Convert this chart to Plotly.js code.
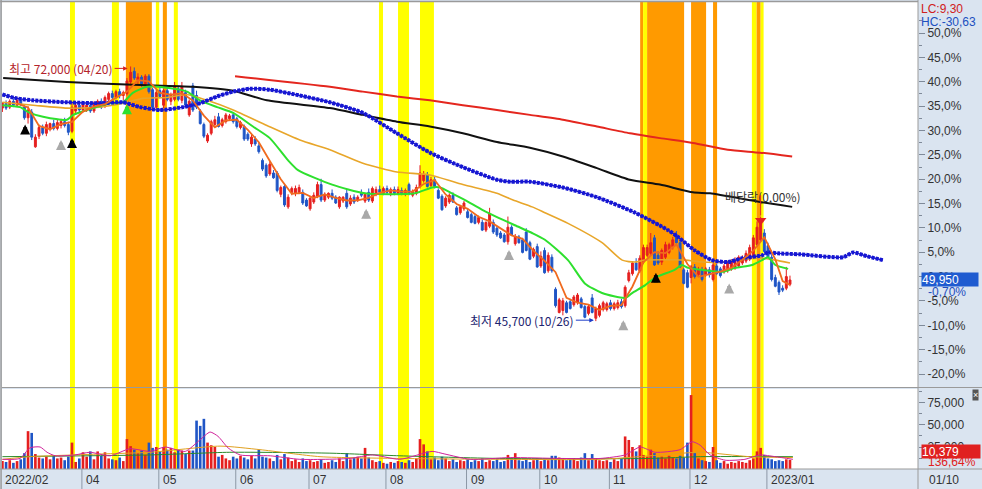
<!DOCTYPE html>
<html><head><meta charset="utf-8">
<script src="https://cdn.plot.ly/plotly-3.0.1.min.js"></script>
<style>html,body{margin:0;padding:0;background:#fff}#chart{width:982px;height:489px}</style>
</head><body><div id="chart"></div>
<script>
// ---------- data (trading-day index 0 = 2022-02-28) ----------
const basePrice = 50300;   // previous close, 0,0% line

const open = [
67700,68200,67800,68400,68000,68500,67800,66700,67300,63700,
64800,65700,65100,65600,66100,65600,65900,66300,66000,65300,
67400,68000,67500,67600,68000,67400,68000,68400,67900,68600,
69200,68800,69400,69000,69200,70400,71500,70600,70900,70100,
71000,69600,67800,69500,68000,69500,68400,68600,69700,68500,
69300,67000,70000,69000,67400,66000,64300,65100,66000,66800,
65900,66300,66600,67000,66600,65700,65800,65000,64000,64500,
63800,62300,61800,60900,61000,61000,58800,59600,57500,59000,
58900,59000,59000,58200,57300,58000,58600,59800,58200,58500,
58900,58500,57500,58100,58900,57800,58500,58200,58900,58100,
59000,58100,58800,59300,58900,59400,58900,59300,58900,59200,
58800,59800,58700,58900,59600,60200,60800,59700,60300,59200,
58600,57600,58000,58700,57400,56900,57300,57000,56700,56500,
55900,55900,55100,55500,55900,55300,54800,54600,53900,55400,
53700,54400,54100,54900,53800,52400,53400,51400,53000,50900,
52300,49000,46600,46800,47600,47700,47400,47600,48000,47200,
46500,48100,46000,46300,46900,46900,47600,47000,47100,47700,
47300,49900,50600,51700,50900,51800,52500,52700,54300,52500,
51800,52300,52800,53400,54600,53800,51000,50700,50200,51300,
50500,51000,50500,51000,50000,51400,51100,50800,50900,51100,
51200,51400,51700,51900,52100,52400,53600,54100,54800,53500,
52300,50200,49700,49100,49100,49500];

const high = [
68300,68500,68600,68700,68800,68800,68000,67900,67600,65000,
66000,66000,66300,66200,66500,66500,66600,66700,66300,68200,
68300,68400,68400,68200,68300,68400,68600,68700,69000,69400,
69500,69600,69700,69500,70800,72000,71900,71300,71100,71200,
71200,69800,69600,69800,69700,69800,69300,70400,70000,70400,
69600,68600,70300,69500,67600,66200,65100,66500,66900,67200,
66700,67200,67100,67300,66800,66400,66000,65200,65100,64800,
64100,62500,62000,62200,61300,61200,59700,59900,58800,59600,
59700,59800,59300,58400,58600,59000,60100,60400,59000,59000,
59300,58700,58600,58600,59300,58700,58800,58700,59300,58900,
59400,59600,59600,59700,59600,59700,59500,59600,59600,59500,
59400,60000,59300,59800,61800,61200,61100,60600,60600,59400,
58800,58600,58900,59000,57600,57700,58100,57300,56900,56700,
56600,56200,56000,57400,56200,55500,55000,54800,56500,55600,
54700,54600,54300,55300,54000,53300,53700,52900,53300,52800,
52600,49200,48100,48100,47800,48000,48400,48600,48200,47400,
47400,48500,47200,47500,47800,47700,47900,47700,47900,48000,
49400,51000,51900,52200,52500,53600,53600,54800,54600,52900,
53200,53900,53800,54400,55000,54000,51200,51000,51500,51600,
51300,51300,51300,51300,52100,51600,51300,51600,51900,52100,
52300,52500,52500,53000,53600,54600,56000,56500,55200,53800,
52600,50500,49900,49400,51300,50400];

const low = [
67300,67500,67600,67800,67800,67900,66500,66100,64400,63600,
64500,64900,64800,65300,65400,65400,65600,65700,64900,65100,
67000,67200,67300,67300,67200,67200,67800,67600,67700,68400,
68500,68600,68700,68500,69000,70200,70600,70200,69900,69800,
69200,67600,67600,68700,67700,68400,68000,68400,68400,68200,
67800,66800,67300,67600,66000,64600,64100,64900,65700,65700,
65700,66100,66400,66100,65600,65500,64300,64300,63700,63800,
63000,61200,60500,60700,60400,59000,58500,57500,57300,58700,
58600,58800,57700,57500,57100,57800,58400,58000,58000,58300,
58200,57800,57300,57900,57300,57600,57800,58000,58500,57900,
58000,57900,58600,58800,58700,58800,58600,58700,58700,58700,
58600,58700,58500,58700,59400,60000,59500,59500,59400,58300,
57100,57400,57800,57900,56600,56700,57100,56300,55800,55700,
55700,55000,54900,55300,54700,54400,54200,53800,53600,54500,
53500,53700,52700,52900,52000,52200,51200,51200,50600,50700,
50700,47100,46500,46300,46500,46900,47200,47400,47000,46000,
46300,46500,45700,46100,46700,46700,46800,46800,46900,47000,
47100,49700,50400,50900,50700,51600,52300,52500,51400,51500,
51500,52100,52600,53100,53500,51200,49500,49100,49600,50100,
50300,49800,50300,50200,49800,50500,50200,50600,50700,50900,
51000,51200,51500,51700,51900,52200,53400,53900,52800,52200,
49800,49200,48400,48700,48900,49300];

const close = [
68200,67700,68400,68000,68500,68100,66700,67500,64700,64700,
65700,65100,66000,66100,65600,66200,66300,65900,65200,67800,
68000,67500,68200,68000,67400,68200,68400,67800,68800,69200,
68800,69400,69000,69300,70500,71400,70800,70900,70200,71000,
69400,67800,69300,68900,69500,68600,69100,70000,68600,69900,
68000,68400,67500,67800,66100,64800,64900,66300,66500,65800,
66500,67000,66900,66300,65800,66200,64500,64500,64700,64000,
63200,61400,60700,61900,60500,59200,59500,57700,58500,59400,
59400,59500,57900,57600,58400,58700,59800,58200,58800,58900,
58400,57900,58500,58500,57500,58400,58000,58500,58700,58800,
58200,59400,59300,59000,59400,59000,59300,58900,59300,58900,
59200,58900,59100,59500,61000,60800,59600,60300,59600,58400,
57200,58400,58700,58000,56700,57500,57900,56400,55900,55800,
56400,55100,55900,56800,54900,54600,54300,53900,55400,54600,
54400,53800,52800,53000,52100,53100,51300,52400,50700,52500,
50900,47300,47900,47800,46600,47000,48200,48400,47100,46100,
47200,46600,47000,47300,47600,47500,47000,47500,47600,47200,
49200,50700,51700,51000,52200,53300,53300,53800,51500,51700,
53000,53600,53600,54100,53800,51300,49600,49200,51300,50300,
51000,50000,51100,50500,51500,50600,50400,51400,51700,51900,
52000,52300,52300,52700,53300,54300,55400,55900,52900,52300,
50000,49300,48700,48900,50300,49950];

const volume = [
9000,8000,10000,7000,9000,11000,18000,43000,41000,17000,
13000,12000,14000,11000,15000,12000,13000,10000,14000,30000,
8000,12000,19000,14000,20000,11000,20000,15000,19000,12000,
11000,10000,13000,9000,34000,26000,22000,18000,21000,16000,
30000,24000,25000,20000,25000,22000,24000,19000,22000,21000,
17000,21000,21000,55000,49000,57000,30000,27000,25000,14000,
16000,12000,10000,14000,12000,15000,13000,11000,15000,12000,
22000,14000,13000,12000,9000,16000,11000,17000,13000,9000,
11000,8000,12000,9000,10000,8000,9000,11000,7000,8000,
10000,8000,12000,9000,18000,11000,13000,14000,12000,24000,
13000,10000,8000,9000,7000,6000,8000,7000,9000,8000,
7000,10000,8000,12000,34000,28000,20000,11000,13000,10000,
14000,12000,9000,11000,8000,10000,9000,11000,8000,10000,
9000,12000,8000,10000,9000,11000,8000,9000,16000,12000,
18000,10000,9000,11000,8000,10000,12000,9000,11000,10000,
15000,15000,13000,12000,10000,11000,12000,9000,13000,18000,
10000,17000,12000,10000,9000,10000,8000,11000,9000,12000,
37000,33000,25000,20000,27000,16000,14000,22000,18000,13000,
14000,12000,15000,13000,12000,15000,13000,30000,84000,18000,
12000,10000,9000,8000,25000,10000,7000,9000,6000,8000,
7000,9000,8000,7000,10000,12000,20000,24000,16000,12000,
11000,9000,10000,9000,11000,10379];

// moving averages (index, price)
const ma5Idx = [4,7,10,13,16,19,22,25,28,31,34,37,40,43,46,49,52,55,58,61,64,67,70,73,76,79,82,85,88,91,94,97,100,103,106,109,112,115,118,121,124,127,130,133,136,139,142,145,148,151,154,157,160,163,166,169,172,175,178,181,184,187,190,193,196,199,202,205,208,211,213,215];
const ma5Val = [68160,67760,65860,65520,66040,66280,67340,67860,68120,68800,69400,70580,70460,69280,69080,69240,68480,66920,65720,66420,66500,65460,64180,62240,60360,58860,58940,58420,58780,58440,58160,58180,58440,58940,59200,59080,59080,59860,60260,58780,57800,57300,56480,56000,55300,54560,54200,52960,51920,50760,48100,47600,47400,46840,47280,47360,49280,51780,52820,52720,53620,51600,50280,50580,50820,51200,52040,52980,54360,52080,49840,49430];

const ma20Idx = [0,4.8,7.5,11.1,17.6,19.3,23.1,29.4,32.9,35.7,39.5,45,50.4,53.9,58.6,63,68.4,73,78,80.7,90,99,112.6,117.3,119.5,122.7,126.3,131,135.3,139.9,144.6,148.1,154.4,159,163.7,170,171.9,175.4,178.2,183.5,185.5,187.2,191,196.5,200,204.7,207.4,209,211,214.5];
const ma20Val = [68000,67800,67200,66800,66500,67000,67500,68200,68300,69300,69900,69800,69400,68500,67800,67200,65800,64600,62300,61300,59800,58900,58900,59500,59500,58900,58200,57200,56400,55600,54800,54100,52000,49600,48600,48100,48600,49400,50200,51000,51500,51200,51000,50800,51200,51500,52000,52300,51500,51100];

const ma60Idx = [0,8.4,17.6,26.6,32.9,38.4,45,50.4,55.9,63,72.2,81.2,89.4,98.4,107.7,116.7,125.7,135,139.4,144.6,148.1,154.4,163.7,169.2,172.7,175.4,186.4,191,196.5,200,207.4,211,215];
const ma60Val = [68300,68000,67700,67800,68200,68700,68800,69100,68500,67500,65900,64400,63400,62000,61100,60800,59800,58900,58200,57500,56900,55800,53800,52000,51800,52000,52000,51800,51800,52000,52200,52000,51700];

const ma120Idx = [0,4,8.4,17.6,26.6,32.9,37.6,43,49.3,53.9,58.6,63,67.6,73,81.2,89.4,98.4,107.7,116.7,125.7,135,138.6,144,153,162.3,172.7,181.7,184.4,189,193.7,198.1,202,207.4,209,211.7,217.8,229.5,232.2,236,240.4];
const ma120Val = [69100,68700,68500,68300,68200,68300,67800,67500,67800,68200,68900,69400,69700,69600,69000,68300,67200,65100,63100,61600,60300,60100,60100,59500,58500,56900,55100,54400,53000,52000,51800,52200,52500,52800,52700,52600,52300,52800,52400,52000];

const ma240Idx = [0.2,17.6,35.7,52,63,72.2,89.4,98.4,107.7,116.7,125.7,135,144,153,162.3,171.3,179.5,188.5,193.2,206.8,215.6];
const ma240Val = [70800,70400,70100,69900,69500,68500,67700,67000,66300,65800,65100,64200,63600,62700,61500,60300,59800,59000,58900,58000,57500];

const ma480Idx = [63.5,89.4,98.4,107.7,116.7,125.7,135,144,153,162.3,171.3,179.5,188.5,198,206.8,215.6];
const ma480Val = [71000,69900,69400,68900,68500,68000,67500,67000,66500,65800,65100,64600,64100,63400,63100,62700];

const vma5Idx = [0,4.8,7.5,10.3,12.2,14.4,19.8,23.9,29.4,34.8,40.3,44.4,49.9,53.9,56.7,58.9,61.6,64.9,73.1,81.2,94.9,101,108.5,117.3,120.8,127.7,138.6,152.2,163.2,170,174.1,178.2,185,188.3,190.5,193.2,197.3,202.7,206.8,211,215.8];
const vma5Val = [11000,12000,24000,25000,19000,15000,16000,19000,15000,23000,20000,25000,20000,33000,42000,37000,24000,16000,15000,11000,12000,16000,11000,20000,17000,11000,13000,12000,12000,16000,25000,19000,22000,31000,27000,16000,10000,11000,16000,14000,11000];
const vma20Idx = [0,7.5,26.6,40.3,59.4,70.3,86.7,108.5,135.8,163.2,176.8,190.5,204,215.8];
const vma20Val = [11000,14000,17000,19000,26000,22000,14000,12000,11000,11000,15000,19000,14000,13000];
const vma60Idx = [0,40.3,62.1,89.4,108.5,135.8,176.8,190.5,215.8];
const vma60Val = [14000,16000,19000,18000,15000,12000,12000,14000,14000];

// signal days (yellow / orange highlighted ranges, index units)
const bandStart = [18.45,29.9,33.7,41.9,43.8,46.8,102.8,108,114,174.1,174.9,176,188,194,204.6,205.9,207];
const bandEnd   = [19.8,31.8,40.8,42.8,44.9,47.9,103.9,111,117.8,174.9,176,186.1,192.1,195.1,205.9,207,207.8];
const bandKind  = ['Y','Y','O','Y','O','Y','Y','Y','Y','O','Y','O','O','O','Y','O','Y'];

// signal arrows (index, price at the arrow tip)
const blackArrowIdx = [6.2,19,178.4], blackArrowVal = [66000,64600,50700];
const grayArrowIdx = [16,99.3,138.3,169.5,198.4], grayArrowVal = [64400,57300,53050,45800,49600];
const greenArrowIdx = [34], greenArrowVal = [68100];

const monthTickIdx = [0,22,43,64,84,105,127,147,166,188,209];
const monthTickText = ['2022/02','04','05','06','07','08','09','10','11','12','2023/01'];
const pctTicks = [-20,-15,-10,-5,0,5,10,15,20,25,30,35,40,45,50];
const volTicks = [25000,50000,75000];

// ---------- chart ----------
const days = close.map((_, i) => i);
const fmtPct = p => p.toFixed(1).replace('.', ',') + '%';
const fmtNum = v => v.toLocaleString('en-US');
const UP = '#e51f1f', DOWN = '#1f55c6';
const KR = 'Noto Sans CJK KR, sans-serif';
const NUM = 'Liberation Sans, Arial, sans-serif';

const lineTrace = (x, y, color, width, extra) => Object.assign({
  type: 'scatter', mode: 'lines', x, y, hoverinfo: 'skip',
  line: {color, width, shape: 'spline', smoothing: 0.6}
}, extra || {});

const traces = [
  {type: 'bar', x: days, y: volume, yaxis: 'y2', width: 0.72, hoverinfo: 'skip',
   marker: {color: close.map((c, i) => c >= open[i] ? UP : DOWN), line: {width: 0}}},
  lineTrace(vma60Idx, vma60Val, '#2a8a2a', 1, {yaxis: 'y2'}),
  lineTrace(vma20Idx, vma20Val, '#e0a020', 1, {yaxis: 'y2'}),
  lineTrace(vma5Idx, vma5Val, '#d0209a', 1, {yaxis: 'y2'}),
  {type: 'candlestick', x: days, open, high, low, close, hoverinfo: 'skip',
   whiskerwidth: 0,
   increasing: {line: {color: UP, width: 1}, fillcolor: UP},
   decreasing: {line: {color: DOWN, width: 1}, fillcolor: DOWN}},
  lineTrace(ma480Idx, ma480Val, '#e4261e', 2),
  lineTrace(ma240Idx, ma240Val, '#111111', 2),
  lineTrace(ma60Idx, ma60Val, '#e8a62a', 1.6),
  lineTrace(ma20Idx, ma20Val, '#2ee02e', 2),
  lineTrace(ma120Idx, ma120Val, '#1616d2', 1.4),
  lineTrace(ma120Idx, ma120Val, '#1616d2', 4, {line: {color: '#1616d2', width: 4, dash: '3px,1.2px', shape: 'spline', smoothing: 0.6}}),
  lineTrace(ma5Idx, ma5Val, '#f06a1e', 1.8, {line: {color: '#f06a1e', width: 1.8}}),
  {type: 'scatter', mode: 'markers', x: [207], y: [high[207] - 400], hoverinfo: 'skip',
   marker: {symbol: 'triangle-down', size: 10, color: '#e51f1f'}}
];

const shapes = [];
bandStart.forEach((s, k) => shapes.push({
  type: 'rect', xref: 'x', yref: 'paper', x0: s, x1: bandEnd[k], y0: 0, y1: 1,
  fillcolor: bandKind[k] === 'Y' ? '#ffff00' : '#ff9a00', line: {width: 0}, layer: 'below'
}));
const G = '#9a9a9a';
shapes.push({type: 'line', xref: 'paper', yref: 'paper', x0: 0, x1: 1.07, y0: 0.1745, y1: 0.1745, line: {color: G, width: 1.2}});
shapes.push({type: 'line', xref: 'paper', yref: 'paper', x0: -0.002, x1: 1.07, y0: 0, y1: 0, line: {color: G, width: 1}});
shapes.push({type: 'line', xref: 'paper', yref: 'paper', x0: 1, x1: 1, y0: -0.05, y1: 1.01, line: {color: G, width: 1}});
shapes.push({type: 'line', xref: 'paper', yref: 'paper', x0: -0.001, x1: -0.001, y0: -0.05, y1: 1.01, line: {color: G, width: 1.5}});
shapes.push({type: 'line', xref: 'paper', yref: 'paper', x0: -0.002, x1: 1, y0: 1.001, y1: 1.001, line: {color: G, width: 1.5}});
monthTickIdx.slice(1).forEach(t => shapes.push({
  type: 'line', xref: 'x', yref: 'paper', x0: t - 0.3, x1: t - 0.3, y0: -0.045, y1: 0, line: {color: '#8c98a6', width: 1}
}));

const annotations = [];
const addArrows = (xs, ys, color) => xs.forEach((x, k) => annotations.push({
  xref: 'x', yref: 'y', x, y: ys[k], ax: 0, ay: 11, text: '', showarrow: true,
  arrowhead: 2, arrowsize: 0.5, arrowwidth: 4, arrowcolor: color
}));
addArrows(blackArrowIdx, blackArrowVal, '#000000');
addArrows(grayArrowIdx, grayArrowVal, '#a9a9a9');
addArrows(greenArrowIdx, greenArrowVal, '#2ee02e');

monthTickIdx.forEach((t, k) => annotations.push({
  xref: 'x', yref: 'paper', x: t, y: -0.0236, xanchor: 'left', yanchor: 'middle', xshift: 1,
  text: monthTickText[k], showarrow: false, font: {family: NUM, size: 12, color: '#333'}
}));
const side = (y, text, color, xshift, extra) => annotations.push(Object.assign({
  xref: 'paper', yref: 'paper', x: 1, y, xanchor: 'left', yanchor: 'middle', xshift,
  text, showarrow: false, font: {family: NUM, size: 12, color}
}, extra || {}));
side(-0.0236, '01/10', '#333', 9);
annotations.push({xref: 'x', yref: 'y', x: 35, y: 71800, text: '최고 72,000 (04/20)', showarrow: true,
  arrowhead: 2, arrowsize: 0.9, arrowwidth: 1, arrowcolor: '#d42020', ax: -16, ay: 0, xanchor: 'right', standoff: 3,
  font: {family: KR, size: 12, color: '#b4232b'}});
annotations.push({xref: 'x', yref: 'y', x: 162, y: 45800, text: '최저 45,700 (10/26)', showarrow: true,
  arrowhead: 2, arrowsize: 0.9, arrowwidth: 1, arrowcolor: '#1d3cc8', ax: -20, ay: 0, xanchor: 'right', standoff: 2,
  font: {family: KR, size: 12, color: '#1c2470'}});
annotations.push({xref: 'x', yref: 'y', x: 196.6, y: 58600, text: '배당락(0,00%)', showarrow: false, xanchor: 'left',
  yanchor: 'middle', font: {family: KR, size: 12, color: '#333'}});
annotations.push({xref: 'x', yref: 'y', x: 207, y: high[207] + 100, ax: 0, ay: -22, text: '', showarrow: true,
  arrowhead: 0, arrowwidth: 1, arrowcolor: '#e51f1f'});
annotations.push({xref: 'paper', yref: 'y', x: 1, y: close[close.length - 1], xanchor: 'left', yanchor: 'middle', xshift: 3,
  width: 56, height: 13, align: 'left', text: fmtNum(close[close.length - 1]), showarrow: false, bgcolor: '#1f5bd0',
  borderpad: 0, font: {family: NUM, size: 12, color: '#fff'}});
side(0.379, '-0,70%', '#1f4fc0', 8);
side(0.9845, 'LC:9,30', '#d02020', 1);
side(0.957, 'HC:-30,63', '#2050c0', 1);
side(0.0385, fmtNum(volume[volume.length - 1]), '#fff', 3,
  {width: 58, height: 13, align: 'left', bgcolor: '#e02020', borderpad: 0});
side(0.015, '136,64%', '#e02020', 8);
side(0.158, '×', '#fff', 54, {bgcolor: '#555', borderpad: 0, font: {family: NUM, size: 9, color: '#fff'}});

const pctMinor = [];
pctTicks.forEach(p => pctMinor.push(basePrice * (1 + (p + 2.5) / 100)));
const layout = {
  width: 982, height: 489,
  margin: {l: 2, r: 64, t: 2, b: 20, pad: 0},
  paper_bgcolor: '#dae4f0', plot_bgcolor: '#ffffff',
  showlegend: false, boxgap: 0.25,
  font: {family: NUM, size: 12, color: '#333'},
  xaxis: {range: [-0.112, 249.95], showgrid: false, zeroline: false, showticklabels: false, ticks: '',
    showline: false, fixedrange: true, rangeslider: {visible: false}},
  yaxis: {domain: [0.1756, 1], range: [38900, 78656], side: 'right', tickmode: 'array',
    tickvals: pctTicks.map(p => basePrice * (1 + p / 100)), ticktext: pctTicks.map(fmtPct),
    ticks: 'outside', ticklen: 6, tickcolor: '#7f8a99', showgrid: false, zeroline: false, showline: false,
    tickfont: {family: NUM, size: 12, color: '#333'},
    minor: {tickmode: 'array', tickvals: pctMinor, ticks: 'outside', ticklen: 3, tickcolor: '#7f8a99', showgrid: false}},
  yaxis2: {domain: [0, 0.1713], range: [0, 90900], side: 'right', tickmode: 'array',
    tickvals: volTicks, ticktext: volTicks.map(fmtNum),
    ticks: 'outside', ticklen: 6, tickcolor: '#7f8a99', showgrid: false, zeroline: false, showline: false,
    tickfont: {family: NUM, size: 12, color: '#333'},
    minor: {tickmode: 'array', tickvals: [12500, 37500, 62500, 87500], ticks: 'outside', ticklen: 3, tickcolor: '#7f8a99', showgrid: false}},
  shapes, annotations
};

Plotly.newPlot('chart', traces, layout, {staticPlot: true, displayModeBar: false});
</script>
</body></html>
